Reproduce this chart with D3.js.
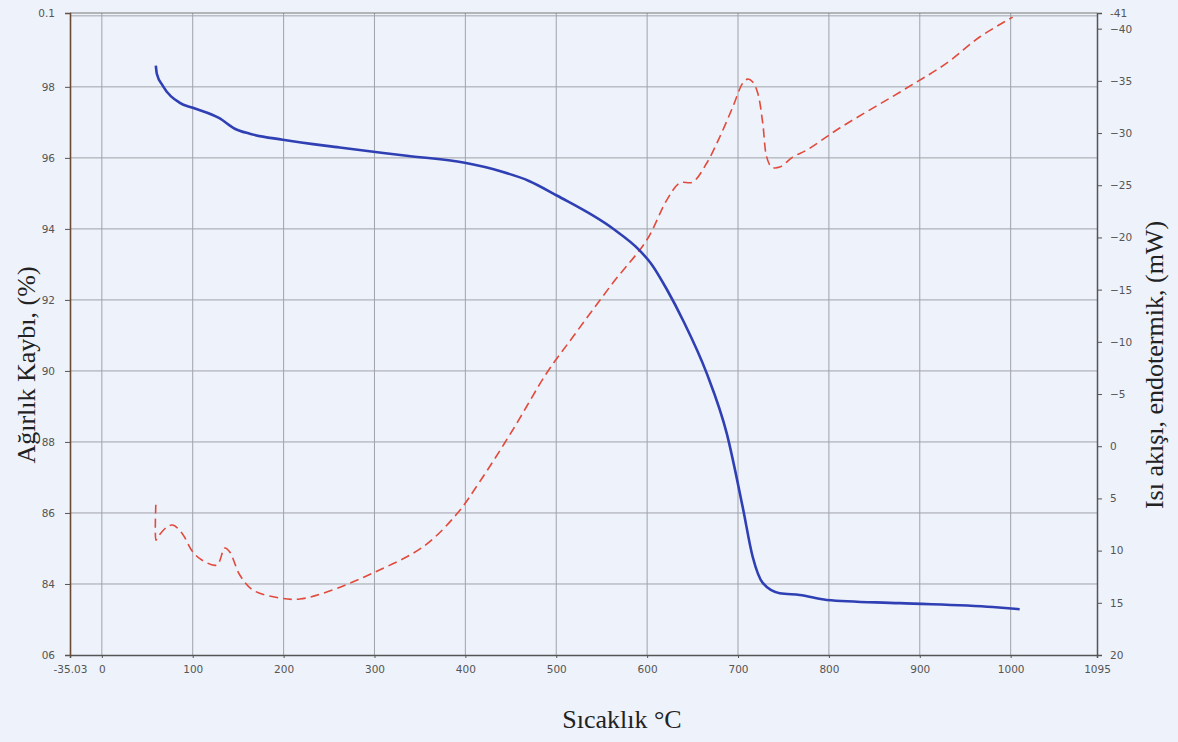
<!DOCTYPE html>
<html><head><meta charset="utf-8">
<script src="https://cdn.jsdelivr.net/npm/d3@7"></script>
<style>
html,body{margin:0;padding:0;background:#eef2fa;}
svg{display:block;}
</style></head>
<body>
<svg id="chart" width="1178" height="742"></svg>
<script>
// ---- data ----
const tempAxisEnds = [-35.03, 1095];
const tempTicks = [0,100,200,300,400,500,600,700,800,900,1000];
const weightAxisEnds = [82, 100.08];
const weightTicks = [84,86,88,90,92,94,96,98];
const weightGrid = [84,86,88,90,92,94,96,98,100];
const heatAxisEnds = [20, -41.5];
const heatTicks = [-40,-35,-30,-25,-20,-15,-10,-5,0,5,10,15,20];

// TG curve: temperature (°C), weight (%)
const tgTemp = [59.4,60.5,67.1,85.8,100.1,129.8,146.3,162.8,199.1,261.8,335.5,399.3,437.8,470,500.6,562.2,591.9,605,621.6,640,665.6,687.6,705.2,716.2,727.2,745.9,767.9,797.6,877.9,980.2,1009.9];
const tgWeight = [98.60,98.37,98.03,97.55,97.41,97.11,96.82,96.68,96.51,96.29,96.06,95.86,95.63,95.35,94.94,94.01,93.39,93.0,92.3,91.4,89.93,88.24,86.16,84.76,84.03,83.74,83.69,83.55,83.46,83.35,83.29];

// DSC curve: temperature (°C), heat flow (mW)
const dscTemp = [59.4,59.6,61.6,71.5,78.1,88.0,100.1,110.0,126.5,135.3,140.8,151.8,166.1,195.8,217.8,247.5,298.1,353.1,390.5,415.8,452.1,489.5,518.2,562.2,599.6,621.6,635.9,650.2,665.6,679.9,694.2,705.2,710.7,716.2,721.7,727.2,731.6,737.1,745.9,760.2,775.6,811.9,885.6,929.6,965.9,1002.2];
const dscHeat = [5.6,9.0,8.7,7.74,7.55,8.31,10.13,10.90,11.38,9.75,10.13,12.34,13.77,14.54,14.64,13.97,12.15,9.66,6.5,3.4,-1.55,-7.01,-10.46,-15.63,-19.75,-23.58,-25.21,-25.31,-27.13,-29.62,-32.49,-34.79,-35.17,-34.89,-33.83,-30.96,-27.70,-26.74,-26.74,-27.70,-28.37,-30.48,-34.31,-36.70,-39.20,-41.11];

const xTitle = "Sıcaklık °C";
const yLeftTitle = "Ağırlık Kaybı, (%)";
const yRightTitle = "Isı akışı, endotermik, (mW)";

// ---- layout ----
const L = 70, R = 1097, T = 13, B = 655;
const svg = d3.select("#chart");

svg.append("rect").attr("x",0).attr("y",0).attr("width",1178).attr("height",742).attr("fill","#eef2fa");

const x = d3.scaleLinear().domain(tempAxisEnds).range([L, R]);
const yL = d3.scaleLinear().domain(weightAxisEnds).range([B, T]);
const yR = d3.scaleLinear().domain(heatAxisEnds).range([B, T]);

// grid
const grid = svg.append("g").attr("stroke","#8d9096").attr("stroke-width",1).attr("opacity",0.8);
grid.selectAll("line.v").data(tempTicks).join("line")
  .attr("x1",d=>x(d)).attr("x2",d=>x(d)).attr("y1",T).attr("y2",B);
grid.selectAll("line.h").data(weightGrid).join("line")
  .attr("x1",L).attr("x2",R).attr("y1",d=>yL(d)).attr("y2",d=>yL(d));
svg.append("line").attr("x1",L).attr("x2",R).attr("y1",T).attr("y2",T).attr("stroke","#777").attr("stroke-width",1.2);

const tickFont = g => g.selectAll("text").attr("font-family","DejaVu Sans, Arial, sans-serif").attr("font-size",10.5).attr("fill","#555");

// bottom axis
const xAxis = d3.axisBottom(x).tickValues([tempAxisEnds[0], ...tempTicks, tempAxisEnds[1]])
  .tickSize(3).tickPadding(8)
  .tickFormat(d => d === tempAxisEnds[0] ? "-35.03" : d3.format("d")(d));
const gx = svg.append("g").attr("transform",`translate(0,${B})`).call(xAxis);
gx.select(".domain").attr("stroke","#555").attr("stroke-width",1.5);
gx.selectAll(".tick line").attr("stroke","#555");
tickFont(gx);

// left axis
const leftLabels = new Map([[weightAxisEnds[0],"06"],[weightAxisEnds[1],"0.1"]]);
const yAxisL = d3.axisLeft(yL).tickValues([weightAxisEnds[0], ...weightTicks, weightAxisEnds[1]])
  .tickSize(5).tickPadding(10)
  .tickFormat(d => leftLabels.has(d) ? leftLabels.get(d) : d3.format("d")(d));
const gl = svg.append("g").attr("transform",`translate(${L},0)`).call(yAxisL);
gl.select(".domain").attr("stroke","#6b4a33").attr("stroke-width",1.6);
gl.selectAll(".tick line").attr("stroke","#555");
tickFont(gl);

// right axis
const yAxisR = d3.axisRight(yR).tickValues([...heatTicks, heatAxisEnds[1]])
  .tickSize(5).tickPadding(8)
  .tickFormat(d => d === heatAxisEnds[1] ? "-41" : d3.format("d")(d));
const gr = svg.append("g").attr("transform",`translate(${R},0)`).call(yAxisR);
gr.select(".domain").attr("stroke","#555").attr("stroke-width",1.5);
gr.selectAll(".tick line").attr("stroke","#555");
tickFont(gr);

// curves
const tg = tgTemp.map((t,i)=>[t,tgWeight[i]]);
const dsc = dscTemp.map((t,i)=>[t,dscHeat[i]]);

svg.append("path").datum(dsc)
  .attr("fill","none").attr("stroke","#e24a3c").attr("stroke-width",1.6)
  .attr("stroke-dasharray","9,5")
  .attr("d", d3.line().x(d=>x(d[0])).y(d=>yR(d[1])).curve(d3.curveCatmullRom.alpha(0.5)));

svg.append("path").datum(tg)
  .attr("fill","none").attr("stroke","#2f3fb4").attr("stroke-width",2.6)
  .attr("stroke-linejoin","round")
  .attr("d", d3.line().x(d=>x(d[0])).y(d=>yL(d[1])).curve(d3.curveMonotoneX));

// titles
svg.append("text").text(xTitle)
  .attr("x",622).attr("y",728).attr("text-anchor","middle")
  .attr("font-family","Liberation Serif, Times New Roman, serif").attr("font-size",26).attr("fill","#222");
svg.append("text").text(yLeftTitle)
  .attr("transform","translate(35,365) rotate(-90)").attr("text-anchor","middle")
  .attr("font-family","Liberation Serif, Times New Roman, serif").attr("font-size",26).attr("fill","#222");
svg.append("text").text(yRightTitle)
  .attr("transform","translate(1163,365) rotate(-90)").attr("text-anchor","middle")
  .attr("font-family","Liberation Serif, Times New Roman, serif").attr("font-size",26).attr("fill","#222");
</script>
</body></html>
